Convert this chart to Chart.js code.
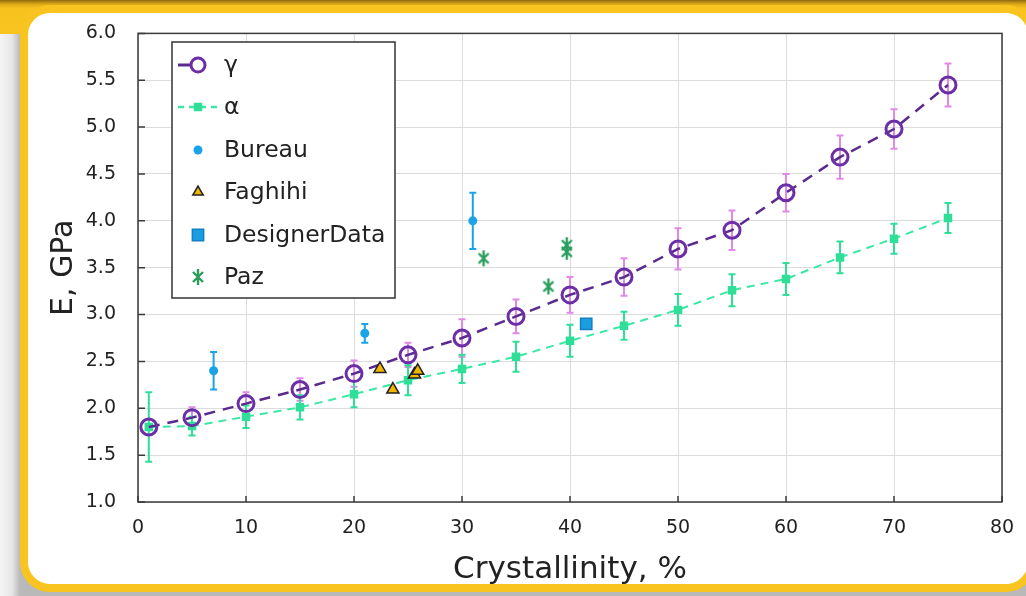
<!DOCTYPE html>
<html>
<head>
<meta charset="utf-8">
<title>Modulus vs crystallinity</title>
<script src="https://cdn.jsdelivr.net/npm/chart.js@4.4.1/dist/chart.umd.min.js"></script>
<style>
  html, body { margin: 0; padding: 0; }
  body {
    width: 1026px; height: 596px; overflow: hidden; position: relative;
    background: linear-gradient(to right, #f4f4f4 0, #e6e6e6 12px, #b9b9b9 20px);
    font-family: "DejaVu Sans", sans-serif;
  }
  #top-band {
    position: absolute; left: 0; top: 0; width: 1026px; height: 34px;
    background: linear-gradient(#8f6a0e 0, #d8a818 4px, #f7c21e 8px, #f9c41f 100%);
  }
  #panel {
    position: absolute; left: 20px; top: 5px; width: 1000px; height: 571px;
    border: 8px solid #f9c41f; border-radius: 30px; background: #fff;
  }
  #myChart { position: absolute; left: 0; top: 0; }
</style>
</head>
<body>
<div id="top-band"></div>
<div id="panel"></div>
<canvas id="myChart" width="1026" height="596"></canvas>
<script>
'use strict';

// Model curves (crystallinity %)
const crystallinity = [1, 5, 10, 15, 20, 25, 30, 35, 40, 45, 50, 55, 60, 65, 70, 75];
const gammaE = [1.80, 1.90, 2.05, 2.20, 2.37, 2.57, 2.75, 2.98, 3.21, 3.40, 3.70, 3.90, 4.30, 4.68, 4.98, 5.45];
const gammaErr = [0.00, 0.11, 0.12, 0.12, 0.14, 0.13, 0.20, 0.18, 0.19, 0.20, 0.22, 0.21, 0.20, 0.23, 0.21, 0.23];
const alphaE = [1.80, 1.81, 1.91, 2.01, 2.15, 2.30, 2.42, 2.55, 2.72, 2.88, 3.05, 3.26, 3.38, 3.61, 3.81, 4.03];
const alphaErr = [0.37, 0.10, 0.12, 0.13, 0.14, 0.16, 0.15, 0.16, 0.17, 0.15, 0.17, 0.17, 0.17, 0.17, 0.16, 0.16];

// Literature points
const bureauX = [7, 21, 31];
const bureauE = [2.40, 2.80, 4.00];
const bureauErr = [0.20, 0.10, 0.30];
const faghihiX = [22.4, 23.6, 25.6, 25.9];
const faghihiE = [2.42, 2.20, 2.36, 2.40];
const designerX = [41.5];
const designerE = [2.90];
const designerErr = [0.05];
const pazX = [32.0, 38.0, 39.7, 39.7];
const pazE = [3.60, 3.30, 3.74, 3.67];

// Axes
const xTicks = [0, 10, 20, 30, 40, 50, 60, 70, 80];
const yTicks = [1.0, 1.5, 2.0, 2.5, 3.0, 3.5, 4.0, 4.5, 5.0, 5.5, 6.0];

const fontName = '"DejaVu Sans", sans-serif';

function points(xs, ys) {
  return xs.map((x, i) => ({x: x, y: ys[i]}));
}

// Paz marker: an x with a vertical stroke
function pazMarker(color) {
  const c = document.createElement('canvas');
  c.width = 16; c.height = 18;
  const g = c.getContext('2d');
  g.strokeStyle = color;
  g.lineWidth = 2.4;
  g.beginPath();
  g.moveTo(3, 4); g.lineTo(13, 14);
  g.moveTo(13, 4); g.lineTo(3, 14);
  g.moveTo(8, 1); g.lineTo(8, 17);
  g.stroke();
  return c;
}
const pazImg = pazMarker('#2b9e5f');

// Error bars, drawn through the scales
const errorBars = {
  id: 'errorBars',
  beforeDatasetsDraw(chart) {
    const ctx = chart.ctx;
    const xs = chart.scales.x;
    const ys = chart.scales.y;
    chart.data.datasets.forEach((ds) => {
      if (!ds.errors) return;
      ctx.save();
      ctx.strokeStyle = ds.errorColor;
      ctx.lineWidth = 2;
      ds.data.forEach((p, i) => {
        const e = ds.errors[i];
        if (!e) return;
        const px = xs.getPixelForValue(p.x);
        const top = ys.getPixelForValue(p.y + e);
        const bot = ys.getPixelForValue(p.y - e);
        ctx.beginPath();
        ctx.moveTo(px, top); ctx.lineTo(px, bot);
        ctx.moveTo(px - 3.5, top); ctx.lineTo(px + 3.5, top);
        ctx.moveTo(px - 3.5, bot); ctx.lineTo(px + 3.5, bot);
        ctx.stroke();
      });
      ctx.restore();
    });
  }
};

// Frame, inner ticks and the boxed legend inside the plot
const frameAndLegend = {
  id: 'frameAndLegend',
  afterDraw(chart) {
    const ctx = chart.ctx;
    const a = chart.chartArea;
    const xs = chart.scales.x;
    const ys = chart.scales.y;
    ctx.save();
    ctx.strokeStyle = '#3a3a3a';
    ctx.lineWidth = 1.5;
    ctx.strokeRect(a.left, a.top, a.right - a.left, a.bottom - a.top);
    ctx.beginPath();
    xTicks.forEach((t) => {
      const px = xs.getPixelForValue(t);
      ctx.moveTo(px, a.bottom); ctx.lineTo(px, a.bottom - 6);
    });
    yTicks.forEach((t) => {
      const py = ys.getPixelForValue(t);
      ctx.moveTo(a.left, py); ctx.lineTo(a.left + 7, py);
    });
    ctx.stroke();

    // legend box
    const bx = 172, by = 42, bw = 223, bh = 256;
    ctx.fillStyle = '#fff';
    ctx.fillRect(bx, by, bw, bh);
    ctx.strokeStyle = '#333';
    ctx.lineWidth = 1.5;
    ctx.strokeRect(bx, by, bw, bh);

    const rowY = [65, 107, 150, 192, 235, 277];
    const mx = 198;
    ctx.font = '23.5px ' + fontName;
    ctx.textBaseline = 'middle';
    chart.data.datasets.forEach((ds, i) => {
      const y = rowY[i];
      if (ds.showLine) {
        ctx.save();
        ctx.strokeStyle = ds.borderColor;
        ctx.lineWidth = ds.borderWidth + 0.5;
        ctx.setLineDash(ds.legendDash);
        ctx.beginPath();
        ctx.moveTo(178, y); ctx.lineTo(ds.legendLineEnd, y);
        ctx.stroke();
        ctx.restore();
      }
      ctx.save();
      ctx.fillStyle = ds.legendFill || ds.pointBackgroundColor;
      ctx.strokeStyle = ds.pointBorderColor;
      ctx.lineWidth = ds.pointBorderWidth;
      Chart.helpers.drawPoint(ctx, {
        pointStyle: ds.pointStyle,
        radius: ds.legendRadius || ds.pointRadius,
        rotation: 0,
        borderWidth: ds.pointBorderWidth
      }, mx, y);
      ctx.restore();
      ctx.fillStyle = '#222';
      ctx.fillText(ds.label, 224, y + 1);
    });
    ctx.restore();
  }
};

const ctx = document.getElementById('myChart').getContext('2d');
const chart = new Chart(ctx, {
  type: 'scatter',
  data: {
    datasets: [{
      label: 'γ',
      data: points(crystallinity, gammaE),
      errors: gammaErr,
      errorColor: '#e08ae6',
      showLine: true,
      borderColor: '#5a2a8e',
      borderWidth: 2.5,
      borderDash: [11, 8],
      legendDash: [],
      legendLineEnd: 192,
      pointStyle: 'circle',
      pointRadius: 8,
      legendRadius: 7,
      pointBorderWidth: 3,
      pointBorderColor: '#6c2ea6',
      pointBackgroundColor: 'rgba(255,255,255,0)',
      legendFill: '#fff',
      order: 1
    }, {
      label: 'α',
      data: points(crystallinity, alphaE),
      errors: alphaErr,
      errorColor: '#2fdf98',
      showLine: true,
      borderColor: '#3ae8a4',
      borderWidth: 2,
      borderDash: [8, 6],
      legendDash: [6, 5],
      legendLineEnd: 222,
      pointStyle: 'rect',
      pointRadius: 6,
      legendRadius: 6,
      pointBorderWidth: 0,
      pointBorderColor: '#2fdf98',
      pointBackgroundColor: '#2fdf98',
      order: 2
    }, {
      label: 'Bureau',
      data: points(bureauX, bureauE),
      errors: bureauErr,
      errorColor: '#1aa3e6',
      showLine: false,
      pointStyle: 'circle',
      pointRadius: 4.5,
      pointBorderWidth: 0,
      pointBorderColor: '#1aa3e6',
      pointBackgroundColor: '#1aa3e6',
      order: 3
    }, {
      label: 'Faghihi',
      data: points(faghihiX, faghihiE),
      showLine: false,
      pointStyle: 'triangle',
      pointRadius: 7,
      legendRadius: 6,
      pointBorderWidth: 1.5,
      pointBorderColor: '#222',
      pointBackgroundColor: '#f2b600',
      order: 0
    }, {
      label: 'DesignerData',
      data: points(designerX, designerE),
      errors: designerErr,
      errorColor: '#0f6fa8',
      showLine: false,
      pointStyle: 'rect',
      pointRadius: 8,
      legendRadius: 8,
      pointBorderWidth: 1.5,
      pointBorderColor: '#1480c4',
      pointBackgroundColor: '#1b9de2',
      order: 0
    }, {
      label: 'Paz',
      data: points(pazX, pazE),
      showLine: false,
      pointStyle: pazImg,
      pointRadius: 8,
      pointBorderWidth: 0,
      pointBorderColor: '#2b9e5f',
      pointBackgroundColor: '#2b9e5f',
      order: 0
    }]
  },
  options: {
    responsive: false,
    animation: false,
    layout: { padding: { left: 0, right: 0, top: 33, bottom: 0 } },
    plugins: {
      legend: { display: false },
      tooltip: { enabled: false }
    },
    scales: {
      x: {
        type: 'linear',
        min: 0,
        max: 80,
        afterBuildTicks: (s) => { s.ticks = xTicks.map((v) => ({value: v})); },
        // fixed height, and keep the plot's right edge 24px in from the canvas
        afterFit: (s) => { s.height = 94; s.paddingRight = 24; },
        grid: { color: '#dcdcdc', lineWidth: 1, drawTicks: false },
        border: { display: false },
        ticks: {
          padding: 15,
          color: '#222',
          font: { family: fontName, size: 19 }
        },
        title: {
          display: true,
          text: 'Crystallinity, %',
          color: '#222',
          padding: { top: 0, bottom: 7 },
          font: { family: fontName, size: 31 }
        }
      },
      y: {
        type: 'linear',
        min: 1,
        max: 6,
        afterBuildTicks: (s) => { s.ticks = yTicks.map((v) => ({value: v})); },
        afterFit: (s) => { s.width = 138; },
        grid: { color: '#dcdcdc', lineWidth: 1, drawTicks: false },
        border: { display: false },
        ticks: {
          padding: 22,
          color: '#222',
          font: { family: fontName, size: 19 },
          callback: (v) => Number(v).toFixed(1)
        },
        title: {
          display: true,
          text: 'E, GPa',
          color: '#222',
          padding: { top: 46, bottom: 0 },
          font: { family: fontName, size: 30 }
        }
      }
    }
  },
  plugins: [errorBars, frameAndLegend]
});
</script>
</body>
</html>
